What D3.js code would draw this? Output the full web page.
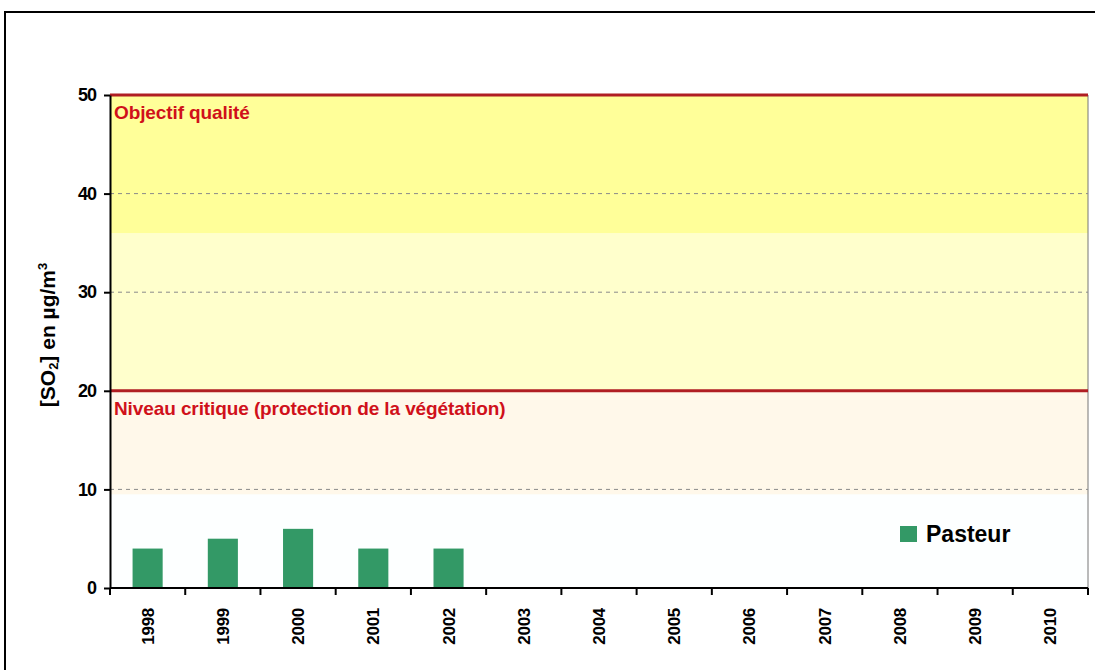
<!DOCTYPE html>
<html>
<head>
<meta charset="utf-8">
<script src="https://cdn.jsdelivr.net/npm/d3@7"></script>
<style>
  body { margin: 0; background: #fff; }
  text { font-family: "Liberation Sans", Arial, sans-serif; }
</style>
</head>
<body>
<div class="chart"></div>
<script>
// data
var years = ['1998', '1999', '2000', '2001', '2002', '2003', '2004', '2005', '2006', '2007', '2008', '2009', '2010'];
var pasteur = [4, 5, 6, 4, 4, null, null, null, null, null, null, null, null];
var yTicks = [0, 10, 20, 30, 40, 50];
var thresholds = [
  { value: 50, label: 'Objectif qualité' },
  { value: 20, label: 'Niveau critique (protection de la végétation)' }
];
// background bands [from, to, colour]
var bands = [
  [0, 9.5, '#fdffff'],
  [9.5, 20, '#fff8ea'],
  [20, 36, '#ffffcc'],
  [36, 50, '#ffff99']
];

var W = 1095, H = 670;
var margin = { top: 95, right: 7, bottom: 82, left: 110 };
var width = W - margin.left - margin.right;
var height = H - margin.top - margin.bottom;

var root = d3.select('.chart')
  .append('svg')
    .attr('width', W)
    .attr('height', H);

// outer frame, runs off the right and bottom edge
root.append('rect')
  .attr('x', 5).attr('y', 12)
  .attr('width', W + 20).attr('height', H + 20)
  .attr('fill', 'none')
  .attr('stroke', '#000')
  .attr('stroke-width', 2);

var svg = root.append('g')
  .attr('transform', `translate(${margin.left}, ${margin.top})`);

var xScale = d3.scaleBand()
  .domain(years)
  .range([0, width])
  .paddingInner(0.6)
  .paddingOuter(0.3);

var yScale = d3.scaleLinear()
  .domain([0, 50])
  .range([height, 0]);

svg.selectAll('.band')
  .data(bands)
  .enter()
  .append('rect')
    .attr('x', 0)
    .attr('width', width)
    .attr('y', d => yScale(d[1]))
    .attr('height', d => yScale(d[0]) - yScale(d[1]))
    .attr('fill', d => d[2]);

// thin right border of the plot
svg.append('line')
  .attr('x1', width).attr('x2', width)
  .attr('y1', 0).attr('y2', height)
  .attr('stroke', '#777').attr('stroke-width', 1);

// dashed grid
svg.selectAll('.grid')
  .data(yTicks.filter(v => v > 0 && v < 50 && v !== 20))
  .enter()
  .append('line')
    .attr('x1', 0).attr('x2', width)
    .attr('y1', d => yScale(d)).attr('y2', d => yScale(d))
    .attr('stroke', '#8a8a8a')
    .attr('stroke-width', 1)
    .attr('stroke-dasharray', '4,4');

// thresholds
svg.selectAll('.thr')
  .data(thresholds)
  .enter()
  .append('line')
    .attr('x1', 0).attr('x2', width)
    .attr('y1', d => yScale(d.value)).attr('y2', d => yScale(d.value))
    .attr('stroke', '#b01e23')
    .attr('stroke-width', 3);

svg.selectAll('.thrlabel')
  .data(thresholds)
  .enter()
  .append('text')
    .attr('x', 4)
    .attr('y', d => yScale(d.value) + 24)
    .attr('fill', '#d0101a')
    .style('font-size', '19px')
    .style('font-weight', 'bold')
    .style('letter-spacing', '-0.1px')
    .text(d => d.label);

// bars
var xBand = d3.scaleBand().domain(years).range([0, width]);
svg.selectAll('.bar')
  .data(years.map((y, i) => ({ year: y, v: pasteur[i] })).filter(d => d.v != null))
  .enter()
  .append('rect')
    .attr('x', d => xScale(d.year))
    .attr('width', xScale.bandwidth())
    .attr('y', d => yScale(d.v))
    .attr('height', d => height - yScale(d.v))
    .attr('fill', '#339966');

// y axis
var yAxis = svg.append('g')
  .call(d3.axisLeft(yScale).tickValues(yTicks).tickSize(6).tickSizeOuter(0).tickPadding(8));
yAxis.select('.domain').attr('stroke-width', 2);
yAxis.selectAll('line').attr('stroke-width', 2);
yAxis.selectAll('text')
  .style('font-size', '18px')
  .style('font-weight', 'bold')
  .style('letter-spacing', '-1px')
  .attr('fill', '#000');

// x axis: ticks at category boundaries
var xAxis = svg.append('g')
  .attr('transform', `translate(0, ${height})`);
xAxis.append('line')
  .attr('x1', 0).attr('x2', width)
  .attr('stroke', '#000').attr('stroke-width', 2);
xAxis.selectAll('.tick')
  .data(years.concat(['end']))
  .enter()
  .append('line')
    .attr('x1', (d, i) => i < years.length ? xBand(d) : width)
    .attr('x2', (d, i) => i < years.length ? xBand(d) : width)
    .attr('y1', 0).attr('y2', 7)
    .attr('stroke', '#000').attr('stroke-width', 2);
xAxis.selectAll('.lbl')
  .data(years)
  .enter()
  .append('text')
    .attr('transform', d => `translate(${xBand(d) + xBand.bandwidth() / 2 + 6}, 20) rotate(-90)`)
    .attr('text-anchor', 'end')
    .style('font-size', '17px')
    .style('font-weight', 'bold')
    .style('letter-spacing', '-0.3px')
    .text(d => d);

// y title
var yTitle = root.append('text')
  .attr('transform', 'translate(55, 335) rotate(-90)')
  .attr('text-anchor', 'middle')
  .style('font-size', '21px')
  .style('font-weight', 'bold');
yTitle.append('tspan').text('[SO');
yTitle.append('tspan').attr('font-size', '13px').attr('dy', 3).text('2');
yTitle.append('tspan').attr('dy', -3).text('] en µg/m');
yTitle.append('tspan').attr('font-size', '13px').attr('dy', -8).text('3');

// legend
var legend = root.append('g').attr('transform', 'translate(900, 526)');
legend.append('rect')
  .attr('width', 17).attr('height', 16)
  .attr('fill', '#339966');
legend.append('text')
  .attr('x', 26).attr('y', 16)
  .style('font-size', '23px')
  .style('font-weight', 'bold')
  .text('Pasteur');
</script>
</body>
</html>
